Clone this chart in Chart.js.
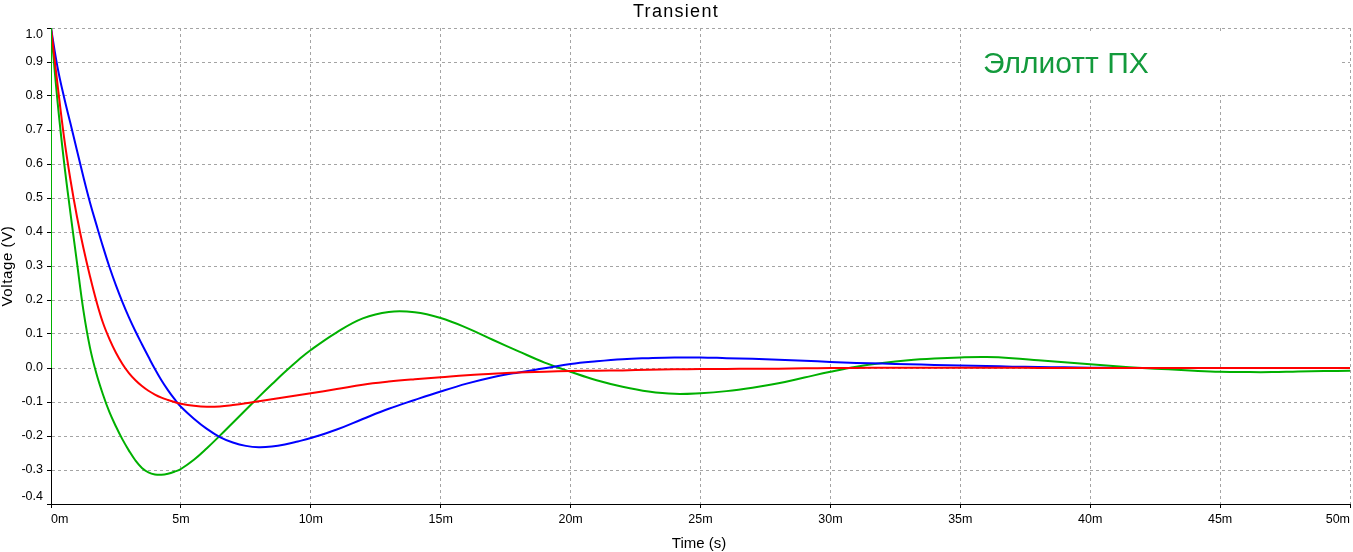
<!DOCTYPE html>
<html><head><meta charset="utf-8">
<script src="https://cdn.jsdelivr.net/npm/chart.js@4"></script>
<style>html,body{margin:0;padding:0;background:#fff;overflow:hidden}#wrap{width:1353px;height:552px;position:relative}</style>
</head><body><div id="wrap"><canvas id="c"></canvas></div>
<script>
const timeMs = [0,0.25,0.5,0.75,1,1.25,1.5,1.75,2,2.25,2.5,2.75,3,3.25,3.5,3.75,4,4.25,4.5,4.75,5,5.5,6,6.5,7,7.5,8,8.5,9,9.5,10,11,12,13,14,15,16,17,18,19,20,21,22,23,24,25,26,27,28,29,30,31,32,33,34,35,36,37,38,39,40,41,42,43,44,45,46,47,48,49,50];
const redValues = [1.0,0.835,0.68,0.553,0.445,0.352,0.27,0.196,0.133,0.085,0.045,0.012,-0.015,-0.036,-0.053,-0.067,-0.078,-0.087,-0.094,-0.1,-0.105,-0.111,-0.114,-0.113,-0.109,-0.104,-0.098,-0.092,-0.086,-0.08,-0.074,-0.062,-0.049,-0.04,-0.033,-0.027,-0.021,-0.017,-0.013,-0.011,-0.009,-0.008,-0.007,-0.005,-0.004,-0.003,-0.003,-0.002,-0.002,-0.001,0,0,0.001,0.001,0.001,0.001,0.001,0.001,0,0,0,0,0,0,0,0,0,0,0,0,0];
const blueValues = [1.0,0.885,0.797,0.719,0.64,0.561,0.487,0.421,0.357,0.297,0.243,0.194,0.149,0.108,0.07,0.033,-0.003,-0.036,-0.065,-0.091,-0.114,-0.149,-0.179,-0.203,-0.219,-0.229,-0.233,-0.231,-0.225,-0.216,-0.206,-0.181,-0.15,-0.12,-0.094,-0.069,-0.046,-0.027,-0.013,-0.001,0.012,0.02,0.026,0.029,0.031,0.031,0.029,0.027,0.024,0.021,0.018,0.015,0.013,0.011,0.009,0.007,0.006,0.004,0.003,0.002,0.001,0,0,0,0,0,0,0,0,0,0];
const greenValues = [1.0,0.785,0.607,0.455,0.31,0.168,0.06,-0.017,-0.078,-0.13,-0.172,-0.21,-0.243,-0.272,-0.294,-0.307,-0.313,-0.314,-0.311,-0.305,-0.297,-0.27,-0.236,-0.199,-0.161,-0.123,-0.085,-0.048,-0.012,0.022,0.053,0.105,0.146,0.165,0.164,0.147,0.118,0.083,0.049,0.016,-0.011,-0.036,-0.055,-0.069,-0.076,-0.074,-0.068,-0.058,-0.045,-0.028,-0.011,0.004,0.015,0.023,0.028,0.031,0.032,0.029,0.023,0.017,0.011,0.005,0,-0.004,-0.008,-0.011,-0.012,-0.012,-0.01,-0.009,-0.008];
const greenStepTime = [0, 0];
const greenStepValue = [0, 1.0];
const yTickValues = [1.0,0.9,0.8,0.7,0.6,0.5,0.4,0.3,0.2,0.1,0.0,-0.1,-0.2,-0.3,-0.4];
const yTickLabels = ['1.0','0.9','0.8','0.7','0.6','0.5','0.4','0.3','0.2','0.1','0.0','-0.1','-0.2','-0.3','-0.4'];
const xTickValues = [0,5,10,15,20,25,30,35,40,45,50];
const xTickLabels = ['0m','5m','10m','15m','20m','25m','30m','35m','40m','45m','50m'];
const chartTitle = 'Transient';
const xTitle = 'Time (s)';
const yTitle = 'Voltage (V)';
const noteText = 'Эллиотт ПХ';

const pts = (xs, ys) => xs.map((x, i) => ({x: x, y: ys[i]}));
const FONT = '"Liberation Sans", Arial, sans-serif';

const textPlugin = {
  id: 'texts',
  beforeDatasetsDraw(chart) {
    const ctx = chart.ctx;
    ctx.save();
    ctx.fillStyle = '#ffffff';
    ctx.fillRect(962, 33, 378, 62);
    ctx.fillStyle = '#139a3c';
    ctx.font = '30px ' + FONT;
    ctx.textAlign = 'left';
    ctx.textBaseline = 'alphabetic';
    ctx.fillText(noteText, 983, 73);
    ctx.restore();
  },
  afterDraw(chart) {
    const ctx = chart.ctx;
    const a = chart.chartArea;
    const xs = chart.scales.x, ys = chart.scales.y;
    ctx.save();
    ctx.fillStyle = '#000';
    ctx.font = '12.5px ' + FONT;
    ctx.textAlign = 'right';
    ctx.textBaseline = 'middle';
    yTickValues.forEach((v, i) => {
      let py = ys.getPixelForValue(v);
      py = Math.max(a.top + 7, Math.min(a.bottom - 7, py));
      ctx.fillText(yTickLabels[i], 43, py);
    });
    xTickValues.forEach((v, i) => {
      const px = xs.getPixelForValue(v);
      ctx.textAlign = i === 0 ? 'left' : (i === xTickValues.length - 1 ? 'right' : 'center');
      ctx.fillText(xTickLabels[i], px, 520);
    });
    ctx.textAlign = 'center';
    ctx.font = '18px ' + FONT;
    ctx.letterSpacing = '1.3px';
    ctx.fillText(chartTitle, 676, 12);
    ctx.font = '15px ' + FONT;
    ctx.letterSpacing = '0px';
    ctx.fillText(xTitle, 699, 544);
    ctx.letterSpacing = '0.6px';
    ctx.translate(8, 266);
    ctx.rotate(-Math.PI / 2);
    ctx.fillText(yTitle, 0, 0);
    ctx.restore();
  }
};

const gridCommon = {color: '#a4a4a4', lineWidth: 1, drawTicks: true, tickLength: 4, tickColor: '#000', tickWidth: 1};
const borderCommon = {display: true, color: '#000', width: 1, dash: [3, 3]};
const lineStyle = {borderWidth: 2, pointRadius: 0, tension: 0.4};

new Chart(document.getElementById('c'), {
  type: 'line',
  data: {
    datasets: [
      {data: pts(greenStepTime, greenStepValue), borderColor: '#00b000', borderWidth: 2, pointRadius: 0, tension: 0},
      Object.assign({data: pts(timeMs, redValues), borderColor: '#ff0000'}, lineStyle),
      Object.assign({data: pts(timeMs, blueValues), borderColor: '#0000ff'}, lineStyle),
      Object.assign({data: pts(timeMs, greenValues), borderColor: '#00b000'}, lineStyle)
    ]
  },
  options: {
    responsive: true,
    maintainAspectRatio: false,
    animation: false,
    events: [],
    layout: {padding: {top: 28, right: 3, left: 0, bottom: 0}},
    plugins: {legend: {display: false}, title: {display: false}, tooltip: {enabled: false}},
    scales: {
      x: {
        type: 'linear', min: 0, max: 50,
        ticks: {stepSize: 5, display: false},
        grid: gridCommon, border: borderCommon,
        afterFit: s => { s.height = 48; }
      },
      y: {
        type: 'linear', min: -0.4, max: 1.0,
        ticks: {stepSize: 0.1, display: false},
        grid: gridCommon, border: borderCommon,
        afterFit: s => { s.width = 51; }
      }
    }
  },
  plugins: [textPlugin]
});
</script>
</body></html>
